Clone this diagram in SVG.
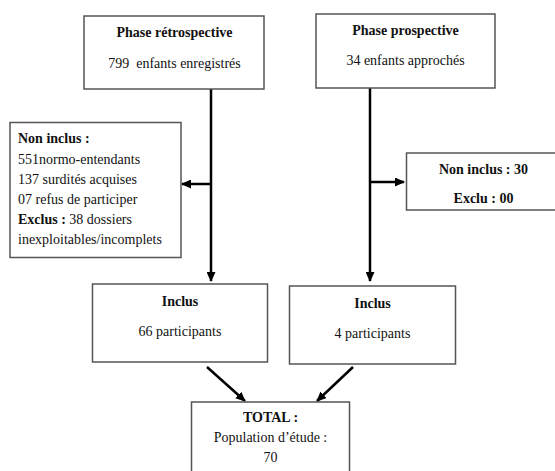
<svg xmlns="http://www.w3.org/2000/svg" width="555" height="471" viewBox="0 0 555 471">
  <defs>
    <style>
      .box { fill: #ffffff; stroke: #555555; stroke-width: 1.5; }
      .t { font-family: 'Liberation Serif', 'Times New Roman', Times, 'DejaVu Serif', serif; font-size: 14px; fill: #111111; }
      .b { font-weight: bold; }
      .c { text-anchor: middle; }
      .conn { stroke: #000000; stroke-width: 2.5; fill: none; }
    </style>
    <marker id="ah" markerUnits="userSpaceOnUse" markerWidth="10" markerHeight="9" refX="9" refY="4.5" orient="auto">
      <path d="M0,0 L10,4.5 L0,9 Z" fill="#000000"/>
    </marker>
  </defs>
  <rect width="555" height="471" fill="#ffffff"/>

  <g id="connectors">
    <line class="conn" x1="211" y1="89" x2="211" y2="281" marker-end="url(#ah)"/>
    <line class="conn" x1="211" y1="184" x2="182" y2="184" marker-end="url(#ah)"/>
    <line class="conn" x1="370" y1="88" x2="370" y2="281" marker-end="url(#ah)"/>
    <line class="conn" x1="370" y1="182" x2="404" y2="182" marker-end="url(#ah)"/>
    <line class="conn" x1="207" y1="367" x2="245" y2="401" marker-end="url(#ah)"/>
    <line class="conn" x1="353" y1="367" x2="317" y2="401" marker-end="url(#ah)"/>
  </g>

  <g id="phase-retro">
    <rect class="box" x="84" y="16" width="180" height="73"/>
    <text class="t b c" x="174.5" y="37">Phase rétrospective</text>
    <text class="t c" x="174.5" y="68" xml:space="preserve">799  enfants enregistrés</text>
  </g>

  <g id="phase-prosp">
    <rect class="box" x="316" y="14" width="179" height="74"/>
    <text class="t b c" x="405.5" y="35">Phase prospective</text>
    <text class="t c" x="405.5" y="65">34 enfants approchés</text>
  </g>

  <g id="non-inclus-retro">
    <rect class="box" x="10" y="122.5" width="171" height="135"/>
    <text class="t" x="18" y="143"><tspan class="b">Non inclus :</tspan></text>
    <text class="t" x="18" y="163.5">551normo-entendants</text>
    <text class="t" x="18" y="183.5">137 surdités acquises</text>
    <text class="t" x="18" y="203.5">07 refus de participer</text>
    <text class="t" x="18" y="223.5"><tspan class="b">Exclus :</tspan> 38 dossiers</text>
    <text class="t" x="18" y="243.5">inexploitables/incomplets</text>
  </g>

  <g id="non-inclus-prosp">
    <rect class="box" x="406.5" y="153" width="152" height="57"/>
    <text class="t b c" x="483.5" y="174">Non inclus : 30</text>
    <text class="t b c" x="483.5" y="203">Exclu : 00</text>
  </g>

  <g id="inclus-retro">
    <rect class="box" x="92.5" y="284" width="175" height="78"/>
    <text class="t b c" x="180" y="306">Inclus</text>
    <text class="t c" x="180" y="336">66 participants</text>
  </g>

  <g id="inclus-prosp">
    <rect class="box" x="289.5" y="286" width="166" height="78"/>
    <text class="t b c" x="372.5" y="308">Inclus</text>
    <text class="t c" x="372.5" y="338">4 participants</text>
  </g>

  <g id="total">
    <rect class="box" x="191.5" y="402" width="158" height="80"/>
    <text class="t b c" x="270.5" y="422">TOTAL :</text>
    <text class="t c" x="270.5" y="442">Population d’étude :</text>
    <text class="t c" x="270.5" y="462">70</text>
  </g>
</svg>
